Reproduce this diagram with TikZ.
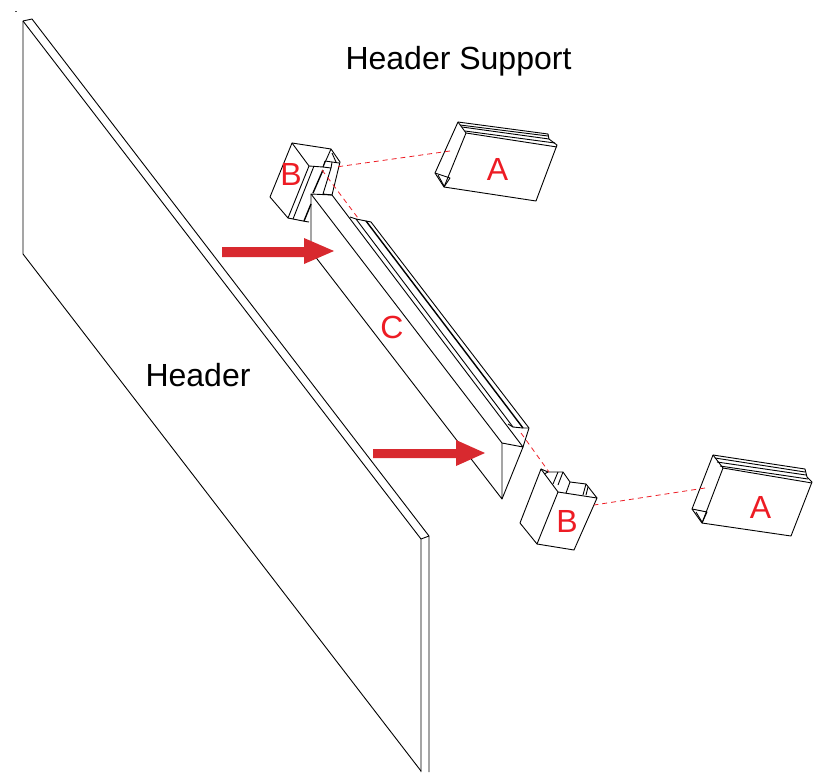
\documentclass[tikz,border=0pt]{standalone}
\usepackage{fontspec}
\setmainfont{Liberation Sans}
\definecolor{lbl}{HTML}{ED1C24}
\definecolor{arw}{HTML}{D8292F}
\tikzset{
  x=1pt,y=-1pt,
  edge/.style={draw=black,line width=0.9pt,line join=round},
  heavy/.style={draw=black,line width=1.4pt,line join=round},
  link/.style={draw=lbl,line width=0.8pt,dash pattern=on 5pt off 4pt},
  caption/.style={font=\fontsize{32pt}{34pt}\selectfont,text=black,inner sep=0pt,anchor=base},
  tag/.style={font=\fontsize{32pt}{34pt}\selectfont,text=lbl,inner sep=0pt,anchor=base},
  bigarrow/.style={fill=arw,draw=none}
}
\begin{document}
\begin{tikzpicture}
\useasboundingbox (0,0) rectangle (814,772);
% speck
\fill[black!70] (15,10.5) rectangle (16.5,11.5);
% header panel
\draw[edge] (23,254)--(23,21)--(32,19)--(429,536)--(429,772);
\draw[edge] (23,21)--(421,539)--(421,772);
\draw[edge] (429,536)--(421,539);
\draw[edge] (23,254)--(421,771);
% upper B
\draw[edge] (292,143)--(331,149)--(340,162)--(332,195);
\draw[edge] (292,143)--(270,197)--(288,218)--(309,166)--cycle;
\draw[edge] (331,149)--(323,167)--(309,166);
\draw[edge] (323,167)--(331,168)--(323,194)--(332,195);
\draw[edge] (325,161)--(339,163);
\draw[edge] (325,161)--(323,167);
\draw[edge] (331,168)--(332,162);
\draw[edge] (332,153)--(336,162);
\draw[edge] (314,166)--(293,219);
\draw[edge] (288,218)--(293,219)--(303,221)--(309,222);
\draw[heavy] (323,170)--(313,193);
\draw[heavy] (311,204)--(304,221);
% piece C strips
\draw[edge] (350,217)--(356,219)--(366,221)--(371,222)--(529,428)--(523,447);
\draw[edge] (356,219)--(513,427);
\draw[heavy] (366,221)--(523,428);
\draw[edge] (508,424)--(513,427)--(523,428)--(529,428);
% piece C
\draw[edge] (311,194)--(332,195)--(523,447)--(502,443)--cycle;
\draw[edge] (311,194)--(311,251)--(502,499)--(502,443);
\draw[edge] (502,499)--(523,447);
% lower B
\draw[edge] (541,469)--(520,523)--(537,544)--(574,550)--(597,498)--(558,492)--cycle;
\draw[edge] (558,492)--(537,544);
\draw[edge] (541,469)--(548,472)--(563,472)--(570,482)--(586,484)--(597,498);
\draw[edge] (548,472)--(544,474);
\draw[edge] (558,472)--(553,484);
\draw[edge] (563,472)--(558,485);
\draw[edge] (570,482)--(566,493);
\draw[edge] (586,484)--(583,495);
\draw[edge] (588,487)--(586,495);
% upper A
\draw[edge] (458,122)--(548,134)--(549,139)--(557,145)--(536,201)--(444,187)--(435,173)--cycle;
\draw[edge] (458,122)--(466,133)--(444,187);
\draw[edge] (466,133)--(557,147);
\draw[edge] (460,125)--(548,136);
\draw[edge] (462,127)--(549,139);
\draw[edge] (465,131)--(555,143);
\draw[edge] (435,173)--(450,178)--(444,187);
\draw[edge] (438,175)--(444,186);
% lower A
\draw[edge] (713,455)--(805,469)--(807,477)--(812,482)--(791,536)--(702,523)--(692,509)--cycle;
\draw[edge] (713,455)--(723,468)--(702,523);
\draw[edge] (723,468)--(812,483);
\draw[edge] (715,458)--(805,472);
\draw[edge] (717,462)--(806,475);
\draw[edge] (720,466)--(808,479);
\draw[edge] (692,509)--(707,512)--(702,523);
\draw[edge] (696,512)--(702,522);
% dashed links
\coordinate (ua) at (450,151); \coordinate (ub) at (336,167);
\coordinate (la) at (705,488); \coordinate (lb) at (594,505);
\coordinate (c1) at (322,170); \coordinate (c2) at (358,218);
\coordinate (c3) at (521,433); \coordinate (c4) at (549,472);
\draw[link] (ua)--(ub);
\draw[link] (la)--(lb);
\draw[link] (c1)--(c2);
\draw[link] (c3)--(c4);
% red arrows
\fill[bigarrow] (222,247)--(304,247)--(304,238)--(334,251)--(304,264)--(304,257)--(222,257)--cycle;
\fill[bigarrow] (373,449)--(456,449)--(456,440)--(485,453)--(456,466)--(456,458)--(373,458)--cycle;
% labels
\node[caption] (title) at (458.5,69) {Header Support};
\node[caption] (hdr) at (198,386) {Header};
\node[tag] (a1) at (497.5,180) {A};
\node[tag] (a2) at (760.5,518) {A};
\node[tag] (b1) at (291,185) {B};
\node[tag] (b2) at (567,532) {B};
\node[tag] (cc) at (392,338) {C};
\end{tikzpicture}
\end{document}
